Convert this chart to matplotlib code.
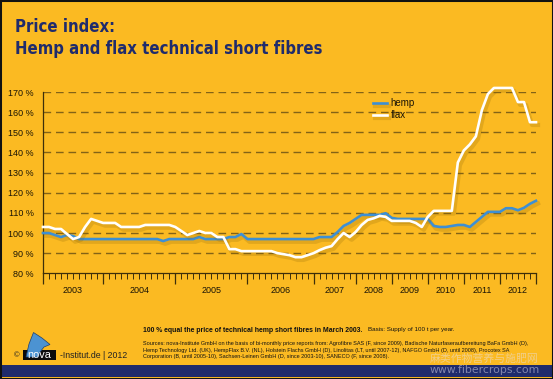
import matplotlib
matplotlib.use("Agg")
import matplotlib.pyplot as plt
import matplotlib.patheffects as pe
from matplotlib.patches import Rectangle, Polygon
import numpy as np

# ---------------- data ----------------
years = ["2003", "2004", "2005", "2006", "2007", "2008", "2009", "2010", "2011", "2012"]
year_starts = [0, 10, 22, 34, 45, 52, 58, 64, 70, 76, 82]   # index of first report of each year

hemp = [100, 100, 99, 98, 99, 98.5, 97, 97, 97, 97,
        97, 97, 97, 97, 97, 97, 97, 97, 97, 97,
        96, 97, 97, 97, 97, 97, 98, 97, 97, 97,
        97, 98, 98, 99.5, 97, 97, 97, 97, 97, 97,
        97, 97, 97, 97, 97, 97, 98, 98, 98, 100.5,
        103.5, 105, 107, 109, 109, 109, 109, 109.8, 107.5, 107,
        107, 107, 107, 107, 107, 103.5, 103, 103, 103.5, 104,
        104, 103, 105.5, 108, 110.5, 110.5, 110.5, 112.3, 112.3, 111.3,
        112.5, 114.5, 116]

flax = [103, 103, 102, 102, 99.5, 97, 98, 103, 107, 106,
        105, 105, 105, 103, 103, 103, 103, 104, 104, 104,
        104, 104, 103, 101, 99, 100, 101, 100, 100, 98,
        98, 92, 92, 91, 91, 91, 91, 91, 91, 90,
        89.5, 89, 88, 88, 89, 90, 91.5, 92.7, 93.5, 97,
        100, 98, 100.5, 104, 106.5, 107.3, 108.5, 108, 106, 106,
        106, 106, 105, 103, 108, 111, 111, 111, 111, 135,
        141, 144, 148, 161, 169, 172, 172, 172, 172, 165,
        165, 155, 155]

yticks = [80, 90, 100, 110, 120, 130, 140, 150, 160, 170]
ytick_labels = [f"{v} %" for v in yticks]

# ---------------- style ----------------
BG = "#FBBA22"
NAVY = "#1F2B6C"
DARK = "#3d2f0a"
W, H = 553, 379

fig = plt.figure(figsize=(W / 100, H / 100), dpi=100, facecolor=BG)

def fx(px):
    return px / W

def fy(py):
    return 1 - py / H

# borders / band
fig.patches.append(Rectangle((0, fy(377)), 1, (377 - 364.5) / H, transform=fig.transFigure,
                             facecolor=NAVY, edgecolor="none", zorder=0))
fig.patches.append(Rectangle((0, 0), 1, 1, transform=fig.transFigure, facecolor="none",
                             edgecolor="#111111", linewidth=2.2, zorder=5))

# title
title_kw = dict(color=NAVY, fontsize=12.0, fontweight="bold", fontstretch="condensed",
                family="DejaVu Sans", va="baseline", ha="left")
fig.text(fx(15), fy(32), "Price index:", **title_kw)
fig.text(fx(15), fy(54), "Hemp and flax technical short fibres", **title_kw)

# axes
ax = fig.add_axes([fx(43), fy(273.3), fx(536) - fx(43), (273.3 - 92) / H])
ax.set_facecolor("none")
x = np.arange(len(hemp))
ax.set_xlim(0, 82)
ax.set_ylim(80, 170)

for v in yticks[1:]:
    ax.axhline(v, color="#6e5414", lw=1.0, dashes=(5.5, 3.5), zorder=1, alpha=0.85)

shadow = [pe.SimpleLineShadow(offset=(1.5, -2.0), shadow_color="#8a6508", alpha=0.22, linewidth=3.0),
          pe.Normal()]
ax.plot(x, hemp, color="#3D8FD4", lw=1.9, label="hemp", zorder=3, clip_on=False,
        path_effects=shadow)
ax.plot(x, flax, color="white", lw=1.9, label="flax", zorder=4, clip_on=False,
        path_effects=shadow)

for s in ["top", "right"]:
    ax.spines[s].set_visible(False)
for s in ["left", "bottom"]:
    ax.spines[s].set_color(DARK)
    ax.spines[s].set_linewidth(0.9)

ax.set_yticks(yticks)
ax.set_yticklabels(ytick_labels, family="Liberation Sans", fontsize=6.5, color="#1a1405")
ax.tick_params(axis="y", length=0, pad=6.5)

ax.set_xticks(year_starts)
ax.set_xticklabels([])
ax.set_xticks(np.arange(0, 83), minor=True)
ax.tick_params(axis="x", which="major", length=8, width=0.9, color=DARK, direction="out")
ax.tick_params(axis="x", which="minor", length=4, width=0.7, color=DARK, direction="out")

for i, yr in enumerate(years):
    mid = (year_starts[i] + year_starts[i + 1]) / 2
    ax.text(mid, -0.095, yr, transform=ax.get_xaxis_transform(), ha="center", va="center",
            family="Liberation Sans", fontsize=6.5, color="#1a1405")

leg = ax.legend(loc="upper left", bbox_to_anchor=(fx(372.5), fy(98.5)), bbox_transform=fig.transFigure,
                frameon=False, handlelength=1.5, handletextpad=0.35, labelspacing=0.2,
                borderpad=0, borderaxespad=0, prop={"family": "Liberation Sans", "size": 7})
for t in leg.get_texts():
    t.set_color("#1a1405")

# footnotes
fig.text(fx(143), fy(330), "100 % equal the price of technical hemp short fibres in March 2003.",
         family="Liberation Sans", fontweight="bold", fontsize=4.95, va="center", ha="left", color="#111")
fig.text(fx(368), fy(330), "Basis: Supply of 100 t per year.",
         family="Liberation Sans", fontsize=4.5, va="center", ha="left", color="#111")
src = ["Sources: nova-Institute GmbH on the basis of bi-monthly price reports from: Agrofibre SAS (F, since 2009), Badische Naturfaseraufbereitung BaFa GmbH (D),",
       "Hemp Technology Ltd. (UK), HempFlax B.V. (NL), Holstein Flachs GmbH (D), Linolitas (LT, until 2007-12), NAFGO GmbH (D, until 2008), Procotex SA",
       "Corporation (B, until 2005-10), Sachsen-Leinen GmbH (D, since 2003-10), SANECO (F, since 2008)."]
for k, line in enumerate(src):
    fig.text(fx(143), fy(343.5 + 6.6 * k), line, family="Liberation Sans", fontsize=4.0,
             va="center", ha="left", color="#111")

# logo
fig.text(fx(14), fy(356), "©", family="Liberation Sans", fontsize=5.5, va="center", ha="left", color="#222")
fig.patches.append(Rectangle((fx(23), fy(360)), fx(56) - fx(23), (360 - 350) / H,
                             transform=fig.transFigure, facecolor="#0b0b0b", edgecolor="none", zorder=2))
fig.patches.append(Polygon([(fx(26), fy(357)), (fx(29), fy(344)), (fx(33.5), fy(332.5)), (fx(42), fy(338)),
                            (fx(50), fy(344.5)), (fx(44), fy(347)), (fx(40), fy(352)), (fx(38.5), fy(357))],
                           closed=True, transform=fig.transFigure, facecolor="#4C93D2",
                           edgecolor="#1d3f70", linewidth=0.5, zorder=3))
fig.text(fx(39.5), fy(355.3), "nova", family="Liberation Sans", fontsize=7.8, color="white",
         va="center", ha="center", zorder=4)
fig.text(fx(60), fy(356), "-Institut.de | 2012", family="Liberation Sans", fontsize=6.3,
         va="center", ha="left", color="#222")

# watermark
fig.text(fx(430), fy(358.5), "麻类作物营养与施肥网", family=["Noto Sans CJK SC", "DejaVu Sans"],
         fontsize=7.8, color="#e6e2f0", alpha=0.5, va="center", ha="left")
fig.text(fx(430), fy(370), "www.fibercrops.com", family="DejaVu Sans", fontsize=7.8,
         color="#e6e2f0", alpha=0.5, va="center", ha="left")

fig.savefig("out.png", dpi=100, facecolor=BG)
